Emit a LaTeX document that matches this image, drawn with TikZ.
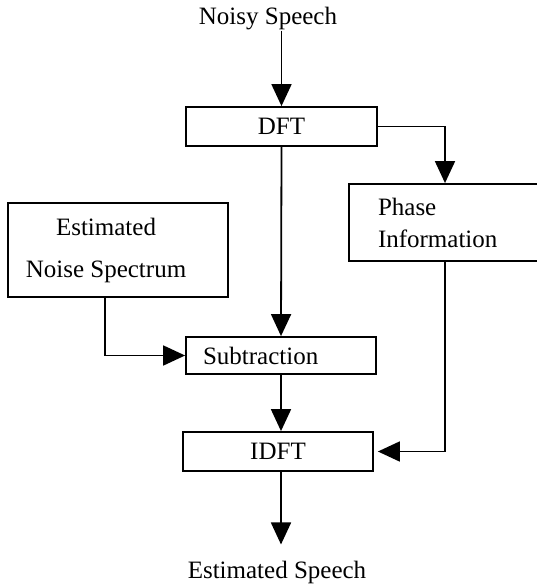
\documentclass[tikz,border=0pt]{standalone}
\usepackage{fontspec}
\setmainfont{Liberation Serif}
\usetikzlibrary{arrows.meta}
\tikzstyle{block}=[
	rectangle,
	draw,
	line width=1.8pt,
	inner sep=0pt,
	font=\fontsize{25}{32}\selectfont
]
\tikzstyle{caption}=[
	inner sep=0pt,
	font=\fontsize{25}{32}\selectfont
]
\tikzstyle{flow}=[
	-{Triangle[width=20pt,length=22pt]},
	line width=1.8pt
]

\begin{document}
\begin{tikzpicture}[x=1pt,y=-1pt]
\useasboundingbox (0,0) rectangle (537,588);
\node [caption, anchor=base] (Noisy) at (268,25) {Noisy Speech};
\node [block, minimum width=191pt, minimum height=39pt] (DFT) at (281.5,126.5) {DFT};
\node [block, minimum width=192pt, minimum height=77pt, text width=134pt,
	inner xsep=29pt, align=left] (Phase) at (445,222.5) {Phase\\Information};
\node [block, minimum width=220pt, minimum height=94pt] (Noise) at (118,250) {};
\node [caption, align=center] (NoiseText) at (106,250) {Estimated\\[10pt]Noise Spectrum};
\node [block, minimum height=37pt, text width=156pt, inner xsep=17pt,
	align=left] (Sub) at (281,355.5) {Subtraction};
\node [block, minimum width=190pt, minimum height=39pt] (IDFT) at (278,451.5) {IDFT};
\node [caption, anchor=base] (Speech) at (277,578) {Estimated Speech};

\draw [flow] (DFT.north |- Noisy.south) -- (DFT.north);
\draw [flow] (DFT.south) -- (Sub.north);
\draw [flow] (DFT.east) -| (Phase.north);
\draw [flow] ([xshift=-13pt]Noise.south) |- (Sub.west);
\draw [flow] (Sub.south) -- (Sub.south |- IDFT.north);
\draw [flow, shorten >=4pt] (Phase.south) |- (IDFT.east);
\draw [flow, shorten >=16pt] (Sub.south |- IDFT.south) -- (Sub.south |- Speech.north);
\end{tikzpicture}
\end{document}
